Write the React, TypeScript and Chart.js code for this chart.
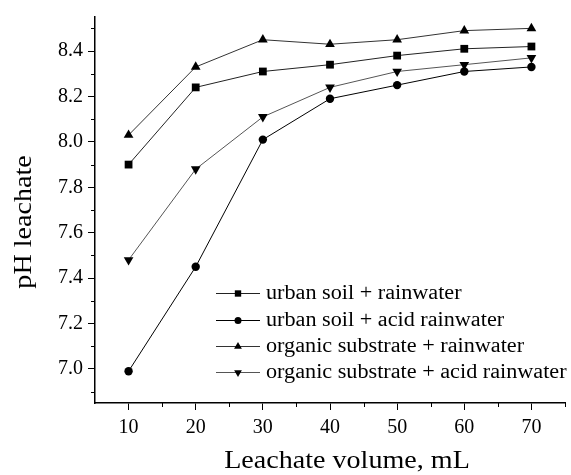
import React, { useEffect, useRef } from "react";
import { Chart, registerables } from "chart.js";

Chart.register(...registerables);

const volumes = [10, 20, 30, 40, 50, 60, 70];
const seriesLabels = [
  "urban soil + rainwater",
  "urban soil + acid rainwater",
  "organic substrate + rainwater",
  "organic substrate + acid rainwater",
];
const urbanRain = [7.9, 8.24, 8.31, 8.34, 8.38, 8.41, 8.42];
const urbanAcid = [6.99, 7.45, 8.01, 8.19, 8.25, 8.31, 8.33];
const organicRain = [8.03, 8.33, 8.45, 8.43, 8.45, 8.49, 8.5];
const organicAcid = [7.48, 7.88, 8.11, 8.24, 8.31, 8.34, 8.37];
const xTicks = [10, 15, 20, 25, 30, 35, 40, 45, 50, 55, 60, 65, 70, 75];
const yTicks = [6.9, 7.0, 7.1, 7.2, 7.3, 7.4, 7.5, 7.6, 7.7, 7.8, 7.9, 8.0, 8.1, 8.2, 8.3, 8.4, 8.5];
const xTitle = "Leachate volume, mL";
const yTitle = "pH leachate";

const FONT = '"Liberation Serif", "Times New Roman", serif';

const isMajorX = (v: number) => Math.round(v) % 10 === 0;
const isMajorY = (v: number) => Math.round(v * 10) % 2 === 0;

function drawMarker(ctx: CanvasRenderingContext2D, style: string, x: number, y: number, r: number) {
  ctx.beginPath();
  if (style === "rect") {
    const s = Math.SQRT1_2 * r;
    ctx.rect(x - s, y - s, 2 * s, 2 * s);
  } else if (style === "circle") {
    ctx.arc(x, y, r, 0, Math.PI * 2);
  } else if (style === "triangle") {
    const h = r;
    ctx.moveTo(x, y - h);
    ctx.lineTo(x + h * 0.866, y + h * 0.5);
    ctx.lineTo(x - h * 0.866, y + h * 0.5);
    ctx.closePath();
  } else {
    const h = r;
    ctx.moveTo(x, y + h);
    ctx.lineTo(x + h * 0.866, y - h * 0.5);
    ctx.lineTo(x - h * 0.866, y - h * 0.5);
    ctx.closePath();
  }
  ctx.fill();
}

const markerStyles = ["rect", "circle", "triangle", "triangleDown"];

const customPlugin = {
  id: "custom",
  afterDraw(chart: any) {
    const ctx: CanvasRenderingContext2D = chart.ctx;
    const xs = chart.scales.x;
    const ys = chart.scales.y;
    const area = chart.chartArea;
    ctx.save();
    ctx.strokeStyle = "#000";
    ctx.lineWidth = 1;
    // minor ticks
    xTicks.forEach((v) => {
      if (!isMajorX(v)) {
        const px = Math.round(xs.getPixelForValue(v)) + 0.5;
        ctx.beginPath();
        ctx.moveTo(px, area.bottom);
        ctx.lineTo(px, area.bottom + 4);
        ctx.stroke();
      }
    });
    yTicks.forEach((v) => {
      if (!isMajorY(v)) {
        const py = Math.round(ys.getPixelForValue(v)) + 0.5;
        ctx.beginPath();
        ctx.moveTo(area.left, py);
        ctx.lineTo(area.left - 4, py);
        ctx.stroke();
      }
    });
    // axis titles
    ctx.fillStyle = "#000";
    ctx.font = `26px ${FONT}`;
    ctx.textAlign = "center";
    ctx.textBaseline = "middle";
    ctx.save();
    ctx.translate(347, 461);
    ctx.scale(1.08, 1);
    ctx.fillText(xTitle, 0, 0);
    ctx.restore();
    ctx.save();
    ctx.translate(24, 222);
    ctx.rotate(-Math.PI / 2);
    ctx.scale(1.08, 1);
    ctx.fillText(yTitle, 0, 0);
    ctx.restore();
    // legend
    const rows = [293, 320, 346, 372];
    ctx.font = `20px ${FONT}`;
    ctx.textAlign = "left";
    chart.data.datasets.forEach((ds: any, i: number) => {
      const y = rows[i];
      ctx.strokeStyle = ds.borderColor;
      ctx.lineWidth = 1;
      ctx.beginPath();
      ctx.moveTo(216, y + 0.5);
      ctx.lineTo(260, y + 0.5);
      ctx.stroke();
      ctx.fillStyle = "#000";
      drawMarker(ctx, markerStyles[i], 238, y + 0.5, i === 1 ? 3.5 : 4.5);
      ctx.save();
      ctx.translate(266, y + 1);
      ctx.scale(1.11, 1);
      ctx.fillText(ds.label, 0, 0);
      ctx.restore();
    });
    ctx.restore();
  },
};

export default function App() {
  const ref = useRef<HTMLCanvasElement | null>(null);
  useEffect(() => {
    document.body.style.margin = "0";
    if (!ref.current) return;
    const mk = (label: string, data: number[], style: any, r: number, rot = 0, color = "#000") => ({
      label,
      data: data.map((v, i) => ({ x: volumes[i], y: v })),
      borderColor: color,
      backgroundColor: "#000",
      pointBackgroundColor: "#000",
      pointBorderColor: "#000",
      pointBorderWidth: 0,
      pointStyle: style,
      pointRadius: r,
      pointRotation: rot,
      borderWidth: 1,
      fill: false,
      tension: 0,
    });
    const chart = new Chart(ref.current, {
      type: "line",
      data: {
        datasets: [
          mk(seriesLabels[0], urbanRain, "rect", 5.5, 0, "#222"),
          mk(seriesLabels[1], urbanAcid, "circle", 4.2, 0, "#000"),
          mk(seriesLabels[2], organicRain, "triangle", 5.6, 0, "#333"),
          mk(seriesLabels[3], organicAcid, "triangle", 5.6, 180, "#555"),
        ] as any,
      },
      options: {
        animation: false,
        responsive: false,
        maintainAspectRatio: false,
        layout: { padding: { top: 17, right: 1, left: 0, bottom: 0 } },
        plugins: { legend: { display: false }, tooltip: { enabled: false } },
        scales: {
          x: {
            type: "linear",
            min: 5,
            max: 75,
            afterBuildTicks: (s: any) => {
              s.ticks = xTicks.map((v) => ({ value: v }));
            },
            afterFit: (s: any) => {
              s.height = 72;
            },
            ticks: {
              autoSkip: false,
              maxRotation: 0,
              padding: 6,
              color: "#000",
              font: { family: FONT, size: 20 },
              callback: (v: any) => (isMajorX(v) ? String(v) : ""),
            },
            grid: {
              drawOnChartArea: false,
              drawTicks: true,
              tickLength: 7,
              tickWidth: 1,
              tickColor: (c: any) => (c.tick && isMajorX(c.tick.value) ? "#000" : "rgba(0,0,0,0)"),
            },
            border: { display: true, color: "#000", width: 1.5 },
          },
          y: {
            type: "linear",
            min: 6.85,
            max: 8.55,
            afterBuildTicks: (s: any) => {
              s.ticks = yTicks.map((v) => ({ value: v }));
            },
            afterFit: (s: any) => {
              s.width = 95;
            },
            ticks: {
              autoSkip: false,
              padding: 5,
              color: "#000",
              font: { family: FONT, size: 20 },
              callback: (v: any) => (isMajorY(v) ? Number(v).toFixed(1) : ""),
            },
            grid: {
              drawOnChartArea: false,
              drawTicks: true,
              tickLength: 7,
              tickWidth: 1,
              tickColor: (c: any) => (c.tick && isMajorY(c.tick.value) ? "#000" : "rgba(0,0,0,0)"),
            },
            border: { display: true, color: "#000", width: 1.5 },
          },
        },
      },
      plugins: [customPlugin],
    });
    return () => chart.destroy();
  }, []);
  return (
    <div style={{ width: 571, height: 475 }}>
      <canvas ref={ref} width={571} height={475} style={{ display: "block" }} />
    </div>
  );
}
